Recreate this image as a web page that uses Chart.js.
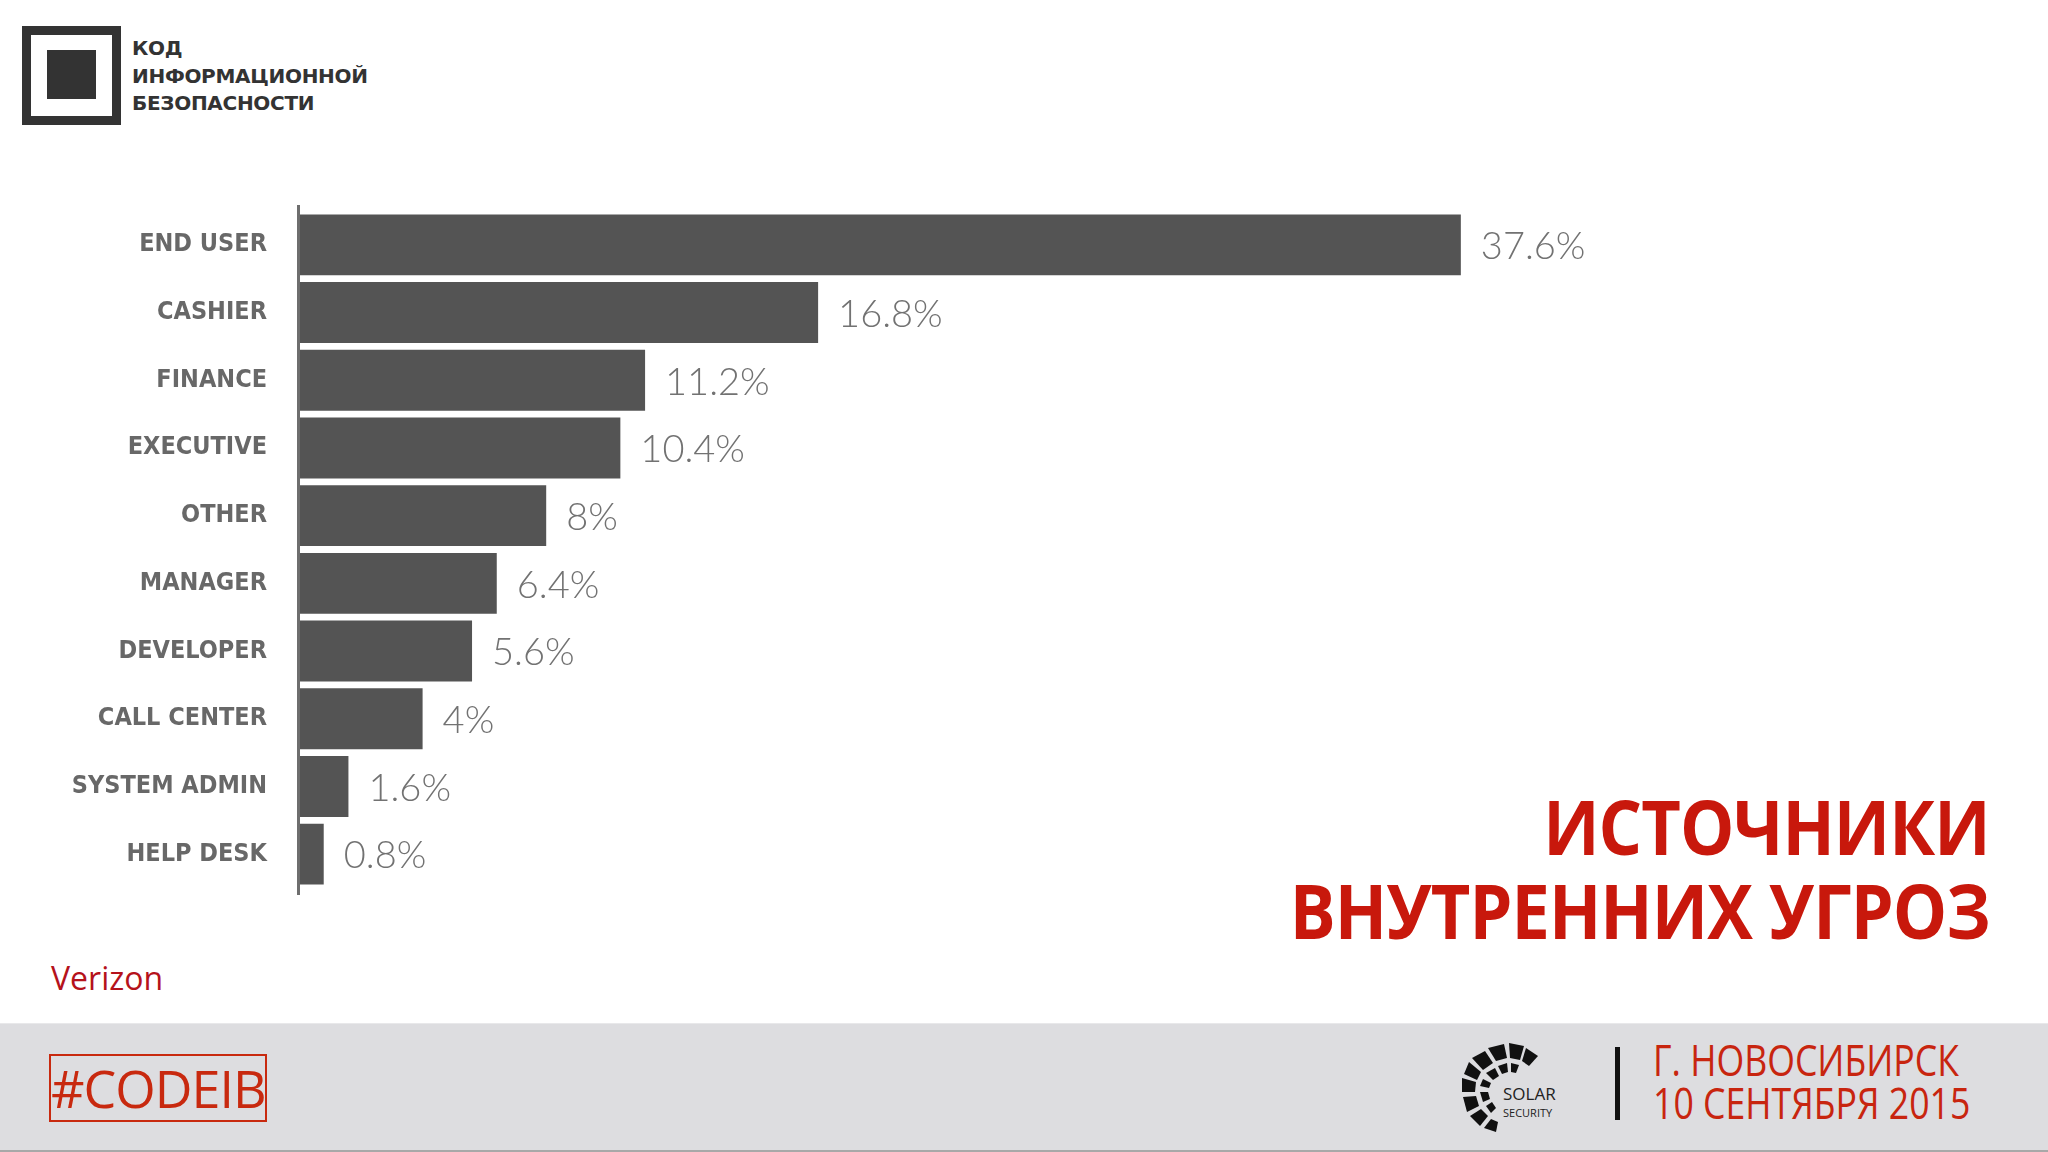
<!DOCTYPE html>
<html>
<head>
<meta charset="utf-8">
<script src="https://cdn.jsdelivr.net/npm/chart.js@4.4.0/dist/chart.umd.min.js"></script>
<style>
  html, body { margin: 0; padding: 0; }
  body { width: 2048px; height: 1152px; position: relative; overflow: hidden; background: #fff; font-family: "Open Sans", sans-serif; }
  .abs { position: absolute; }
  #logoBox { left: 22px; top: 26px; width: 99px; height: 99px; border: 9px solid #333; box-sizing: border-box; }
  #logoInner { left: 47px; top: 50px; width: 49px; height: 49px; background: #333; }
  #logoText { left: 132px; top: 35px; font: bold 20px "DejaVu Sans"; line-height: 27.5px; color: #333; letter-spacing: -0.3px; }
  #title { right: 58px; top: 784px; text-align: right; color: #c8180c; font-weight: 700; font-size: 76px; line-height: 84px; letter-spacing: -1px; transform: scaleX(0.9); transform-origin: right top; }
  #source { left: 51px; top: 956px; color: #b5121b; font-size: 32px; }
  #footer { left: 0; top: 1023px; width: 2048px; height: 126px; background: #dddde0; border-top: 1px solid #e8e8ea; border-bottom: 3px solid #a8a8a8; }
  #tag { left: 49px; top: 1054px; width: 218px; height: 68px; border: 2px solid #c8290f; box-sizing: border-box; color: #c8290f; font-size: 52px; line-height: 64px; text-align: center; letter-spacing: -1px; }
  #sep { left: 1615px; top: 1047px; width: 5px; height: 73px; background: #111; }
  #city { left: 1653px; top: 1038px; color: #c8250f; font-size: 44px; line-height: 43px; transform: scaleX(0.81); transform-origin: left top; }
  #solar { left: 1460px; top: 1042px; }
  #chartBox { left: 0; top: 0; width: 2048px; height: 1000px; }
</style>
</head>
<body>
<div id="footer" class="abs"></div>
<div id="logoBox" class="abs"></div>
<div id="logoInner" class="abs"></div>
<div id="logoText" class="abs">КОД<br>ИНФОРМАЦИОННОЙ<br>БЕЗОПАСНОСТИ</div>
<div id="title" class="abs">ИСТОЧНИКИ<br>ВНУТРЕННИХ УГРОЗ</div>
<div id="source" class="abs">Verizon</div>
<div id="tag" class="abs">#CODEIB</div>
<svg id="solar" class="abs" width="110" height="90" viewBox="0 0 110 90">
  <g fill="#111">
    <path d="M28 6 L44 2 L47 16 L36 19 Z"/>
    <path d="M49 1 L64 4 L60 18 L50 16 Z"/>
    <path d="M66 6 L78 14 L69 24 L62 19 Z"/>
    <path d="M12 16 L25 9 L33 21 L23 28 Z"/>
    <path d="M4 32 L9 20 L21 30 L17 38 Z"/>
    <path d="M2 50 L2 36 L16 40 L15 50 Z"/>
    <path d="M3 55 L16 54 L19 64 L7 70 Z"/>
    <path d="M10 74 L21 67 L28 74 L20 84 Z"/>
    <path d="M24 86 L31 77 L38 80 L36 90 Z"/>
    <path d="M38 24 L47 21 L48 30 L42 32 Z"/>
    <path d="M51 21 L59 23 L56 31 L51 30 Z"/>
    <path d="M26 31 L35 26 L39 34 L33 38 Z"/>
    <path d="M20 44 L23 37 L31 41 L29 46 Z"/>
    <path d="M20 50 L28 50 L30 57 L23 60 Z"/>
    <path d="M26 64 L32 60 L36 66 L31 71 Z"/>
  </g>
  <text x="43" y="58" font-family="Open Sans" font-size="17" fill="#222">SOLAR</text>
  <text x="43" y="75" font-family="Open Sans" font-size="11" fill="#222">SECURITY</text>
</svg>
<div id="sep" class="abs"></div>
<div id="city" class="abs">Г. НОВОСИБИРСК<br>10 СЕНТЯБРЯ 2015</div>
<div id="chartBox" class="abs"><canvas id="barChart"></canvas></div>
<script>
const categories = ['END USER', 'CASHIER', 'FINANCE', 'EXECUTIVE', 'OTHER', 'MANAGER', 'DEVELOPER', 'CALL CENTER', 'SYSTEM ADMIN', 'HELP DESK'];
const shares = [37.6, 16.8, 11.2, 10.4, 8, 6.4, 5.6, 4, 1.6, 0.8];
const valueLabels = ['37.6%', '16.8%', '11.2%', '10.4%', '8%', '6.4%', '5.6%', '4%', '1.6%', '0.8%'];

// axis line a bit longer than the plot area, plus the percentage next to each bar
const valueLabelPlugin = {
    id: 'valueLabels',
    afterDatasetsDraw(chart) {
        const ctx = chart.ctx;
        const area = chart.chartArea;
        const bars = chart.getDatasetMeta(0).data;
        ctx.save();
        ctx.fillStyle = '#6e6e6e';
        ctx.fillRect(area.left - 2, area.top - 6, 3, area.bottom - area.top + 13);
        ctx.font = '300 38px Lato, "Open Sans", sans-serif';
        ctx.fillStyle = '#727272';
        ctx.textAlign = 'left';
        ctx.textBaseline = 'middle';
        bars.forEach((bar, i) => {
            ctx.fillText(valueLabels[i], bar.x + 20, bar.y + 2);
        });
        ctx.restore();
    }
};

const ctx = document.getElementById('barChart').getContext('2d');
const barChart = new Chart(ctx, {
    type: 'bar',
    data: {
        labels: categories,
        datasets: [{
            data: shares,
            backgroundColor: '#545454',
            borderWidth: 0,
            barPercentage: 0.9,
            categoryPercentage: 1.0
        }]
    },
    options: {
        indexAxis: 'y',
        responsive: true,
        maintainAspectRatio: false,
        animation: false,
        layout: { padding: { top: 211, bottom: 112, left: 0, right: 513 } },
        plugins: {
            legend: { display: false },
            tooltip: { enabled: false }
        },
        scales: {
            x: {
                display: false,
                min: 0,
                max: 40
            },
            y: {
                afterFit: (scale) => { scale.width = 299; },
                grid: { display: false, drawTicks: false },
                border: { display: false },
                ticks: {
                    color: '#686868',
                    padding: 32,
                    font: { family: '"DejaVu Sans Condensed", "DejaVu Sans"', weight: 'bold', size: 25 }
                }
            }
        }
    },
    plugins: [valueLabelPlugin]
});
</script>
</body>
</html>
